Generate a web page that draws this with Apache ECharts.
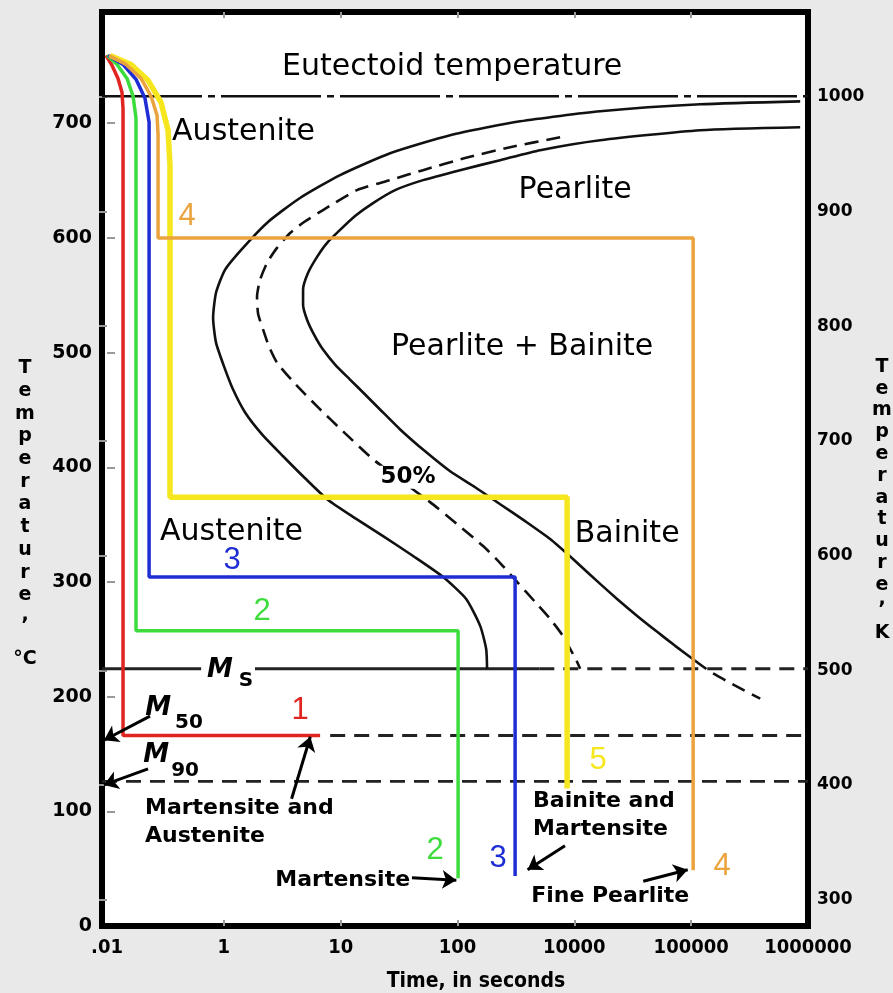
<!DOCTYPE html>
<html><head><meta charset="utf-8">
<script src="https://cdn.jsdelivr.net/npm/echarts@6/dist/echarts.min.js"></script>
<style>html,body{margin:0;padding:0;background:#e9e9e9;} #c{width:893px;height:993px;}</style>
</head><body><div id="c"></div>
<script>
// ---------- axis ticks ----------
const xTickLabels = ['.01', '1', '10', '100', '10000', '100000', '1000000'];
const xTickPositions = [0, 1, 2, 3, 4, 5, 6];
const celsiusTicks = [0, 100, 200, 300, 400, 500, 600, 700];
const kelvinTicks = [300, 400, 500, 600, 700, 800, 900, 1000];

// ---------- characteristic temperatures (°C) ----------
const eutectoidT = 723.5;
const msT = 224.3;
const m50T = 166.1;
const m90T = 126.1;
const msDashFrom = 3.7;
const m50DashFrom = 1.91;

// ---------- transformation curves [time position, °C] ----------
const startCurve = [[5.933,719.1],[5.077,716.5],[4.221,710.4],[3.536,701.7],[2.937,689.6],[2.423,673.9],[1.995,654.8],[1.652,634.8],[1.378,613.9],[1.164,591.3],[1.010,572.2],[0.933,552.2],[0.908,530.4],[0.933,508.7],[1.002,487.8],[1.079,467.8],[1.182,447.8],[1.327,428.7],[1.507,409.6],[1.695,390.4],[1.884,372.2],[2.123,355.7],[2.363,340.0],[2.620,322.6],[2.877,304.3],[3.074,285.2],[3.194,261.7],[3.245,241.7],[3.253,224.3]];
const halfCurve = [[3.878,687.8],[3.450,679.1],[3.065,669.6],[2.705,659.1],[2.423,650.4],[2.140,641.7],[1.849,624.3],[1.687,613.9],[1.567,604.3],[1.455,591.3],[1.370,578.3],[1.310,563.5],[1.284,548.7],[1.293,533.9],[1.336,520.0],[1.387,505.2],[1.455,491.3],[1.592,474.8],[1.807,452.2],[2.038,429.6],[2.277,407.0],[2.526,387.8],[2.765,369.6],[2.997,350.4],[3.219,331.3],[3.365,316.5],[3.510,300.0],[3.664,282.6],[3.793,267.8],[3.896,253.9],[3.964,241.7],[4.015,232.2],[4.050,224.3]];
const finishCurve = [[5.933,696.5],[5.077,693.9],[4.221,685.2],[3.707,676.5],[3.365,667.8],[3.022,659.1],[2.705,650.4],[2.466,641.7],[2.277,630.4],[2.123,619.1],[1.995,607.0],[1.884,595.7],[1.798,583.5],[1.721,569.6],[1.678,554.8],[1.678,541.7],[1.712,528.7],[1.772,515.7],[1.849,502.6],[1.952,489.6],[2.080,476.5],[2.209,463.5],[2.337,450.4],[2.509,433.0],[2.723,413.9],[2.937,396.5],[3.151,382.6],[3.365,367.8],[3.579,353.0],[3.793,337.4],[4.007,318.3],[4.221,298.3],[4.366,285.2],[4.538,270.4],[4.709,256.5],[4.863,244.3],[5.034,231.3]];
const finishTail = [[5.034,231.3],[5.164,221.7],[5.377,209.6],[5.591,198.3]];

// ---------- cooling paths [time position, °C] ----------
const path1 = [[-0.009,759.1],[0.043,750.4],[0.094,739.1],[0.128,727.0],[0.137,713.0],[0.137,166.1],[1.824,166.1]];
const path2 = [[0.000,759.1],[0.086,751.3],[0.171,739.1],[0.223,723.5],[0.248,704.3],[0.248,257.4],[3.005,257.4],[3.005,41.7]];
const path3 = [[0.009,759.1],[0.137,751.3],[0.248,738.3],[0.325,721.7],[0.360,700.9],[0.360,304.3],[3.493,304.3],[3.493,43.5]];
const path4 = [[0.017,759.1],[0.163,751.3],[0.291,739.1],[0.377,723.5],[0.428,707.0],[0.437,689.6],[0.437,600.0],[5.017,600.0],[5.017,48.7]];
const path5 = [[0.026,759.1],[0.205,751.3],[0.351,737.4],[0.462,718.3],[0.522,693.9],[0.539,663.5],[0.539,373.9],[3.938,373.9],[3.938,120.0]];

// ---------- arrows [from, to] ----------
const arrowList = [
  [[0.368,183],[-0.026,162]],
  [[0.351,137],[-0.026,123]],
  [[1.58,111],[1.74,165]],
  [[2.61,42],[2.99,40]],
  [[3.92,70],[3.60,49]],
  [[4.59,39],[4.97,49]]
];

// ---------- text annotations (anchor in data coordinates) ----------
const regionLabels = [
  {text:'Eutectoid temperature', at:[2.954,748.7], align:'center'},
  {text:'Austenite', at:[0.557,692.2], align:'left'},
  {text:'Pearlite', at:[4.007,641.7], align:'center'},
  {text:'Pearlite + Bainite', at:[3.553,504.3], align:'center'},
  {text:'Austenite', at:[0.454,343.0], align:'left'},
  {text:'Bainite', at:[4.452,342.0], align:'center'}
];
const productLabels = [
  {text:'Martensite and\nAustenite', at:[0.325,90.4], align:'left'},
  {text:'Bainite and\nMartensite', at:[3.647,96.5], align:'left'},
  {text:'Martensite', at:[2.594,40], align:'right'},
  {text:'Fine Pearlite', at:[4.307,26], align:'center'}
];
const percentLabel = {text:'50%', at:[2.577,391.3]};
const pathNumbers = [
  {text:'1', at:[1.652,187.8], path:0},
  {text:'2', at:[1.327,273.9], path:1},
  {text:'3', at:[1.070,319.0], path:2},
  {text:'4', at:[0.685,619.0], path:3},
  {text:'2', at:[2.808,66.0], path:1},
  {text:'3', at:[3.348,59.0], path:2},
  {text:'4', at:[5.265,52.0], path:3},
  {text:'5', at:[4.204,144.0], path:4}
];
const mLabels = [
  {main:'M', sub:'S', at:[1.036,222.6], subAt:[1.190,214.0]},
  {main:'M', sub:'50', at:[0.437,189.6], subAt:[0.702,177.4]},
  {main:'M', sub:'90', at:[0.420,148.7], subAt:[0.668,135.7]}
];

// ---------- styling ----------
const X_MIN = -0.043, X_MAX = 6, Y_MIN = 0, Y_MAX = 797, K_MIN = 277;
const pathColors = ['#e02520', '#3ddc3d', '#1e2ed4', '#eba33e', '#f6e61e'];
const pathWidths = [3.5, 3.5, 3.5, 3.5, 5.5];
const BLACK = '#111';

function line(data, color, width, type, z, smooth) {
  return {type:'line', data:data, symbol:'none', smooth:smooth || false, z:z || 3,
    lineStyle:{color:color, width:width, type:type || 'solid', cap:'butt'}, silent:true, animation:false};
}

const series = [];
series.push(line([[X_MIN,eutectoidT],[X_MAX,eutectoidT]], BLACK, 2.6, [100,6,7,6], 2));
series.push(line([[X_MIN,msT],[msDashFrom,msT]], '#222', 3, 'solid', 2));
series.push(line([[msDashFrom,msT],[X_MAX,msT]], '#222', 3, [15,9], 2));
series.push(line([[m50DashFrom,m50T],[X_MAX,m50T]], '#222', 2.8, [15,9], 2));
series.push(line([[X_MIN,m90T],[X_MAX,m90T]], '#222', 2.8, [15,9], 2));
series.push(line(startCurve, BLACK, 2.6, 'solid', 3, 0.2));
series.push(line(halfCurve, BLACK, 2.6, [14,8], 3, 0.2));
series.push(line(finishCurve, BLACK, 2.6, 'solid', 3, 0.2));
series.push(line(finishTail, BLACK, 2.6, [14,8], 3, 0.2));
[path1, path2, path3, path4, path5].forEach((p, i) => {
  series.push(line(p, pathColors[i], pathWidths[i], 'solid', 5 + (i === 3 ? 1 : 0)));
});
series.push({type:'lines', coordinateSystem:'cartesian2d', z:8, silent:true, animation:false,
  symbol:['none','arrow'], symbolSize:14,
  lineStyle:{color:'#000', width:3, opacity:1, curveness:0},
  data: arrowList.map(a => ({coords:a}))});

const axisFont = {fontFamily:'DejaVu Sans', fontWeight:'bold', color:'#000'};
const option = {
  animation:false,
  backgroundColor:'#e9e9e9',
  grid:{left:102, right:85, top:12, bottom:67, show:true, backgroundColor:'#fff', borderColor:'#000', borderWidth:6, containLabel:false},
  xAxis:[
    {type:'value', min:X_MIN, max:X_MAX, position:'bottom', axisLine:{show:false}, splitLine:{show:false},
     axisTick:{show:true, inside:true, length:6, customValues:xTickPositions.slice(1,6), lineStyle:{color:'#999', width:2}},
     axisLabel:{customValues:xTickPositions, formatter:v => xTickLabels[Math.round(v)], margin:12,
       fontFamily:'DejaVu Sans Condensed, Liberation Sans Narrow, DejaVu Sans', fontWeight:'bold', fontSize:20, color:'#000'}},
    {type:'value', min:X_MIN, max:X_MAX, position:'top', axisLine:{show:false}, splitLine:{show:false},
     axisTick:{show:true, inside:true, length:6, customValues:xTickPositions.slice(1,6), lineStyle:{color:'#999', width:2}},
     axisLabel:{show:false}}
  ],
  yAxis:[
    {type:'value', min:Y_MIN, max:Y_MAX, position:'left', axisLine:{show:false}, splitLine:{show:false},
     axisTick:{show:true, inside:true, length:8, customValues:celsiusTicks.slice(1), lineStyle:{color:'#999', width:2}},
     axisLabel:Object.assign({customValues:celsiusTicks, formatter:v => String(v), margin:10, fontSize:19}, axisFont)},
    {type:'value', min:K_MIN, max:K_MIN + (Y_MAX - Y_MIN), position:'right', axisLine:{show:false}, splitLine:{show:false},
     axisTick:{show:true, inside:true, length:8, customValues:kelvinTicks, lineStyle:{color:'#999', width:2}},
     axisLabel:Object.assign({customValues:kelvinTicks, formatter:v => String(v), margin:9, fontSize:17}, axisFont)}
  ],
  series: series
};
const chart = echarts.init(document.getElementById('c'));
chart.setOption(option);

// ---------- texts placed through the chart's own scales ----------
function px(p) { return chart.convertToPixel({xAxisIndex:0, yAxisIndex:0}, p); }
function txt(p, text, font, extra) {
  const q = px(p);
  return {type:'text', x:q[0], y:q[1], z:50, silent:true,
    style:Object.assign({text:text, font:font, fill:'#000', align:'center', verticalAlign:'middle'}, extra || {})};
}
const REGION_FONT = '30px "DejaVu Sans"';
const PRODUCT_FONT = 'bold 22px "DejaVu Sans"';
const graphics = [];
regionLabels.forEach(l => graphics.push(txt(l.at, l.text, REGION_FONT, {align:l.align})));
productLabels.forEach(l => graphics.push(txt(l.at, l.text, PRODUCT_FONT, {align:l.align, lineHeight:28.5})));
graphics.push(txt(percentLabel.at, percentLabel.text, 'bold 23px "DejaVu Sans"', {backgroundColor:'#fff', padding:[0,3]}));
pathNumbers.forEach(l => graphics.push(txt(l.at, l.text, '31px "Liberation Sans"', {fill:pathColors[l.path]})));
mLabels.forEach((l, i) => {
  graphics.push(txt(l.at, l.main, 'italic bold 26px "DejaVu Sans"', i === 0 ? {backgroundColor:'#fff', padding:[2,22,2,6]} : {}));
});
mLabels.forEach(l => graphics.push(txt(l.subAt, l.sub, 'bold 20px "DejaVu Sans"')));
// axis titles
const TITLE_FONT = 'bold 19px "DejaVu Sans"';
graphics.push({type:'text', x:25, y:357, silent:true, style:{text:'T\ne\nm\np\ne\nr\na\nt\nu\nr\ne', font:TITLE_FONT, lineHeight:22.7, align:'center', verticalAlign:'top', fill:'#000'}});
graphics.push({type:'text', x:25, y:606, silent:true, style:{text:',', font:TITLE_FONT, align:'center', verticalAlign:'top', fill:'#000'}});
graphics.push({type:'text', x:25, y:650, silent:true, style:{text:'°C', font:TITLE_FONT, align:'center', verticalAlign:'top', fill:'#000'}});
graphics.push({type:'text', x:882, y:356, silent:true, style:{text:'T\ne\nm\np\ne\nr\na\nt\nu\nr\ne', font:TITLE_FONT, lineHeight:21.8, align:'center', verticalAlign:'top', fill:'#000'}});
graphics.push({type:'text', x:882, y:590, silent:true, style:{text:',', font:TITLE_FONT, align:'center', verticalAlign:'top', fill:'#000'}});
graphics.push({type:'text', x:882, y:624, silent:true, style:{text:'K', font:TITLE_FONT, align:'center', verticalAlign:'top', fill:'#000'}});
graphics.push({type:'text', x:476, y:971, silent:true, style:{text:'Time, in seconds', font:'bold 21px "DejaVu Sans Condensed", "Liberation Sans Narrow", "DejaVu Sans"', align:'center', verticalAlign:'top', fill:'#000'}});
chart.setOption({graphic: graphics});
</script></body></html>
